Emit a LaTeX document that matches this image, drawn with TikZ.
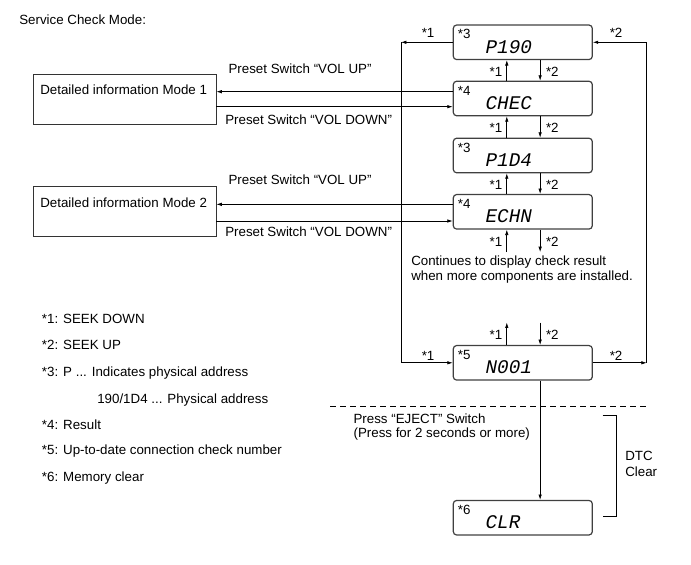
\documentclass[tikz,border=0pt]{standalone}
\usepackage{fontspec}
\setmainfont{Liberation Sans}
\newfontfamily\segfont{Liberation Mono}
\usetikzlibrary{arrows.meta,calc}
\begin{document}
\begin{tikzpicture}[x=0.75pt,y=-0.75pt,
  font=\fontsize{10}{12}\selectfont,
  disp/.style={draw=black!75, line width=0.9pt, rounded corners=2.5pt,
    minimum width=104.25pt, minimum height=25.9pt, inner sep=0pt},
  seg/.style={font=\segfont\itshape\fontsize{14.5}{14.5}\selectfont, anchor=base west, inner sep=0pt},
  star/.style={anchor=base west, inner sep=0pt},
  txt/.style={anchor=base west, inner sep=0pt},
  modebox/.style={draw=black!80, line width=0.6pt, minimum width=137pt,
    minimum height=37.5pt, inner sep=0pt},
  ln/.style={line width=0.5pt},
  arr/.style={ln,-{Latex[length=4pt,width=2.6pt]}},
]
\useasboundingbox (0,0) rectangle (691,564);

% title
\node[txt] (title) at (19,24.8) {Service Check Mode:};

% display boxes
\node[disp] (p190) at (522.8,42.3) {};
\node[disp] (chec) at (522.8,98.5) {};
\node[disp] (p1d4) at (522.8,155.5) {};
\node[disp] (echn) at (522.8,211.8) {};
\node[disp] (n001) at (522.8,362.8) {};
\node[disp] (clr)  at (522.8,517.7) {};

\foreach \b/\s/\t in {p190/3/P190, chec/4/CHEC, p1d4/3/P1D4, echn/4/ECHN, n001/5/N001, clr/6/CLR}{
  \node[star] (\b-star) at ([xshift=3.75pt,yshift=2.6pt]\b.west) {*\s};
  \node[seg] (\b-txt) at ([xshift=24.5pt,yshift=-8.25pt]\b.west) {\t};
}

% arrows between consecutive boxes
\foreach \u/\l in {p190/chec, chec/p1d4, p1d4/echn}{
  \draw[arr] ([xshift=-12pt]\l.north) -- ([xshift=-12pt]\u.south);
  \draw[arr] ([xshift=13pt]\u.south) -- ([xshift=13pt]\l.north);
  \coordinate (\u-mid) at ($(\u.south)!0.5!(\l.north)$);
  \node[anchor=east, inner sep=0pt] (\u-l1) at ([xshift=-15.2pt,yshift=-1pt]\u-mid) {*1};
  \node[anchor=west, inner sep=0pt] (\u-l2) at ([xshift=17.2pt,yshift=-1pt]\u-mid) {*2};
}

% below ECHN
\coordinate (eu) at ([xshift=-12pt,yshift=-16.8pt]echn.south);
\coordinate (ed) at ([xshift=13pt,yshift=-16.8pt]echn.south);
\draw[arr] (eu) -- ([xshift=-12pt]echn.south);
\draw[arr] ([xshift=13pt]echn.south) -- (ed);
\coordinate (echn-mid) at ([yshift=-9pt]echn.south);
\node[anchor=east, inner sep=0pt] (echn-l1) at ([xshift=-15.2pt]echn-mid) {*1};
\node[anchor=west, inner sep=0pt] (echn-l2) at ([xshift=17.2pt]echn-mid) {*2};

\node[txt] (cont1) at (411,265.5) {Continues to display check result};
\node[txt] (cont2) at (411,280.5) {when more components are installed.};

% above N001
\coordinate (nu) at ([xshift=-12pt,yshift=16.8pt]n001.north);
\coordinate (nd) at ([xshift=13pt,yshift=16.8pt]n001.north);
\draw[arr] ([xshift=-12pt]n001.north) -- (nu);
\draw[arr] (nd) -- ([xshift=13pt]n001.north);
\coordinate (n001-mid) at ([yshift=7.5pt]n001.north);
\node[anchor=east, inner sep=0pt] (n001-l1) at ([xshift=-15.2pt]n001-mid) {*1};
\node[anchor=west, inner sep=0pt] (n001-l2) at ([xshift=17.2pt]n001-mid) {*2};

% left loop (*1)
\coordinate (lc) at (401,0 |- p190.west);
\draw[arr] (p190.west) -- (lc);
\draw[arr] (lc) |- (n001.west);
\node[txt] (lt1) at (421.5,37.5) {*1};
\node[txt] (lt2) at (421.5,360.5) {*1};

% right loop (*2)
\coordinate (rc) at (646.7,0 |- n001.east);
\draw[arr] (n001.east) -- (rc);
\draw[arr] (rc) |- (p190.east);
\node[txt] (rt1) at (609.5,37.5) {*2};
\node[txt] (rt2) at (609.5,360.5) {*2};

% mode boxes
\node[modebox] (m1) at (124.7,99) {};
\node[modebox] (m2) at (124.7,211.7) {};
\node[txt] (m1t) at (40,94.1) {Detailed information Mode 1};
\node[txt] (m2t) at (40,207.5) {Detailed information Mode 2};

\coordinate (c1u) at ([yshift=5.1pt]chec.west);
\coordinate (c1d) at ([yshift=-6.15pt]chec.west);
\draw[arr] (c1u) -- (c1u -| m1.east);
\draw[arr] (c1d -| m1.east) -- (c1d);
\node[txt] (v1u) at (228.3,73.1) {Preset Switch “VOL UP”};
\node[txt] (v1d) at (225,124.8) {Preset Switch “VOL DOWN”};

\coordinate (c2u) at ([yshift=5.6pt]echn.west);
\coordinate (c2d) at ([yshift=-6.9pt]echn.west);
\draw[arr] (c2u) -- (c2u -| m2.east);
\draw[arr] (c2d -| m2.east) -- (c2d);
\node[txt] (v2u) at (228.3,184.8) {Preset Switch “VOL UP”};
\node[txt] (v2d) at (225,236.5) {Preset Switch “VOL DOWN”};

% legend
\node[txt] (lg1) at (41.7,323.1) {*1: SEEK DOWN};
\node[txt] (lg2) at (41.7,349.8) {*2: SEEK UP};
\node[txt] (lg3) at (41.7,376.5) {*3: P ... Indicates physical address};
\node[txt] (lg3b) at (97,403.1) {190/1D4 ... Physical address};
\node[txt] (lg4) at (41.7,429.8) {*4: Result};
\node[txt] (lg5) at (41.7,454.8) {*5: Up-to-date connection check number};
\node[txt] (lg6) at (41.7,481.5) {*6: Memory clear};

% dashed separator
\coordinate (dl) at (330,406);
\coordinate (dr) at (648,406);
\draw[ln, dash pattern=on 4.2pt off 3.3pt] (dl) -- (dr);

% N001 -> CLR
\draw[arr] ([xshift=13pt]n001.south) -- ([xshift=13pt]clr.north);
\node[txt] (ej1) at (353.3,423.1) {Press “EJECT” Switch};
\node[txt] (ej2) at (353.3,437.3) {(Press for 2 seconds or more)};

% bracket
\coordinate (b1) at (602.7,415.3);
\coordinate (b2) at (616,415.3);
\coordinate (b3) at (616,516.7);
\coordinate (b4) at (602.7,516.7);
\draw[line width=0.7pt] (b1) -- (b2) -- (b3) -- (b4);
\node[txt] (dtc) at (625,460.8) {DTC};
\node[txt] (dtcc) at (625,476.5) {Clear};
\end{tikzpicture}
\end{document}
